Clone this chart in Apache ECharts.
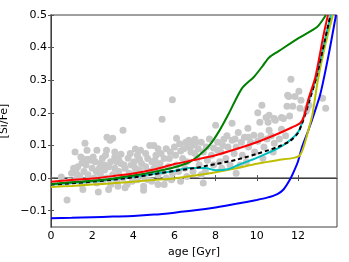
<!DOCTYPE html>
<html><head><meta charset="utf-8">
<script src="https://cdn.jsdelivr.net/npm/echarts@6/dist/echarts.min.js"></script>
<style>html,body{margin:0;padding:0;background:#fff}#c{width:349px;height:262px}</style>
</head><body><div id="c"></div>
<script>
var xTicks = [0, 2, 4, 6, 8, 10, 12];
var yTicks = [-0.1, 0, 0.1, 0.2, 0.3, 0.4, 0.5];

var stars = [
 [0.5,0.003],[0.78,-0.067],[1.0,0.015],[0.9,-0.01],[1.2,0.024],[1.27,0.012],[1.17,0.08],[1.5,0.046],
 [1.65,0.107],[1.6,0.058],[1.75,0.085],[1.8,0.058],[1.95,0.055],[1.75,-0.012],[2.23,-0.015],[2.23,0.085],
 [2.3,-0.043],[2.5,0.061],[2.6,0.04],[2.72,0.125],[2.87,0.116],[2.7,0.085],[3.1,0.064],[3.1,0.08],
 [3.0,0.122],[3.4,0.073],[3.5,0.147],[3.75,0.061],[4.1,0.089],[4.3,0.058],
 [1.2,-0.005],[1.4,0.005],[1.5,-0.02],[1.6,0.02],[1.8,0.01],[1.9,-0.005],[2.0,0.03],[1.3,0.035],[1.7,0.04],
 [2.1,0.0],[2.2,0.02],[2.4,0.01],[2.5,-0.01],[2.6,0.025],[2.7,0.0],[2.8,0.035],[2.9,-0.02],[2.4,0.045],[2.9,0.05],[2.8,-0.035],
 [3.0,0.01],[3.1,0.03],[3.2,-0.01],[3.3,0.02],[3.4,0.045],[3.5,0.0],[3.6,0.03],[3.7,-0.02],[3.8,0.015],[3.9,0.04],[3.3,0.055],[3.6,-0.03],
 [4.0,0.01],[4.1,0.03],[4.2,-0.005],[4.3,0.025],[4.4,0.045],[4.5,0.005],[4.6,0.035],[4.7,0.06],[4.8,0.02],[4.9,-0.01],[4.5,-0.025],[4.2,0.07],[4.9,0.05],[4.5,-0.037],
 [5.0,0.03],[5.1,0.07],[5.2,0.01],[5.3,0.045],[5.4,0.02],[5.5,0.06],[5.6,0.0],[5.7,0.035],[5.8,0.08],[5.9,0.015],[5.2,0.09],[5.5,-0.02],[5.0,0.1],[5.2,-0.02],
 [5.4,0.18],[5.9,0.24],
 [6.0,0.095],[6.1,0.122],[6.3,0.083],[6.1,0.04],[6.2,0.02],[6.4,0.06],[6.5,0.03],[6.65,0.095],[6.7,0.116],[6.8,0.08],[6.6,0.05],[6.9,0.02],[6.3,-0.01],
 [7.0,0.119],[7.0,0.107],[7.1,0.06],[7.2,0.04],[7.4,0.08],[7.5,0.02],[7.6,0.055],[7.8,0.07],[7.9,0.092],[7.9,0.04],[8.0,0.162],[7.3,0.01],[7.4,-0.015],
 [8.25,0.08],[8.4,0.119],[8.6,0.095],[8.8,0.168],[8.2,0.05],[8.5,0.06],[8.7,0.04],[8.9,0.075],[8.3,0.03],[8.8,0.116],
 [9.0,0.095],[9.1,0.14],[9.4,0.125],[9.6,0.125],[9.57,0.153],[9.6,0.095],[9.7,0.11],[9.86,0.131],[9.3,0.07],[9.5,0.05],[9.9,0.08],[9.2,0.04],[9.0,0.015],
 [10.05,0.2],[10.05,0.113],[10.15,0.171],[10.25,0.223],[10.35,0.095],[10.45,0.186],[10.55,0.171],[10.6,0.193],[10.6,0.147],[10.85,0.183],[10.85,0.107],[10.9,0.177],[10.2,0.13],[10.5,0.12],[10.7,0.13],[10.3,0.06],[10.8,0.08],
 [11.2,0.186],[11.3,0.183],[11.47,0.22],[11.5,0.254],[11.56,0.25],[11.6,0.19],[11.66,0.303],[11.75,0.22],[11.86,0.25],[11.2,0.15],[11.4,0.13],[11.1,0.12],
 [12.05,0.266],[12.1,0.214],[12.15,0.239],[12.4,0.205],[12.45,0.214],[12.54,0.223],[13.2,0.245],[13.35,0.214],
 [1.1,0.03],[1.45,0.065],[2.05,0.065],[2.35,0.03],[2.65,0.07],[3.2,0.05],[3.55,0.04],[3.85,0.075],[4.05,0.05],[4.35,0.085],
 [4.6,0.075],[4.8,0.1],[5.05,0.055],[5.35,0.075],[5.6,0.09],[5.75,0.06],[6.05,0.07],[6.25,0.105],[6.45,0.09],[6.55,0.11],
 [6.85,0.1],[7.15,0.09],[7.3,0.11],[7.55,0.095],[7.7,0.12],[8.1,0.11],[8.35,0.1],[8.55,0.13],[8.95,0.12],[9.25,0.11],
 [3.95,-0.01],[4.7,-0.005],[5.85,-0.005],[6.6,0.005],[2.15,0.05],[1.55,-0.035],[3.25,-0.025],[5.1,0.035],[7.0,0.075],[8.1,0.085]
];

var blueLine = [[0,-0.123],[1,-0.122],[2,-0.12],[3,-0.118],[4,-0.116],[5,-0.112],[6,-0.106],[7,-0.099],[8,-0.09],[9,-0.079],[10,-0.067],[10.5,-0.06],[11,-0.049],[11.3,-0.035],[11.6,-0.006],[11.8,0.02],[12.0,0.05],[12.2,0.095],[12.5,0.145],[12.8,0.2],[13.1,0.26],[13.5,0.38],[13.85,0.5]];
var yellowLine = [[0,-0.027],[1,-0.024],[2,-0.02],[3,-0.016],[4,-0.011],[5,-0.006],[6,-0.001],[7,0.008],[8,0.018],[9,0.03],[10,0.044],[11,0.055],[11.8,0.062],[12.1,0.07],[12.3,0.1],[12.5,0.145],[12.7,0.193],[12.97,0.3],[13.3,0.4],[13.7,0.5]];
var redLine = [[0,-0.011],[1,-0.006],[2,-0.001],[3,0.006],[4,0.014],[5,0.026],[6,0.043],[7,0.056],[8,0.07],[9,0.089],[10,0.11],[11,0.135],[11.7,0.155],[12.1,0.168],[12.3,0.19],[12.5,0.24],[12.85,0.31],[13.25,0.44],[13.46,0.5]];
var greenLine = [[0,-0.018],[1,-0.013],[2,-0.008],[3,-0.002],[4,0.008],[5,0.019],[6,0.033],[6.75,0.05],[7.2,0.07],[7.7,0.1],[8.2,0.147],[8.65,0.199],[9.28,0.275],[9.86,0.31],[10.3,0.345],[10.6,0.37],[11.08,0.39],[12.05,0.43],[12.93,0.463],[13.36,0.5]];
var cyanLine = [[0,-0.02],[1,-0.015],[2,-0.01],[3,-0.004],[4,0.004],[5,0.013],[6,0.022],[6.7,0.031],[7.5,0.031],[8.0,0.024],[8.65,0.028],[9.1,0.04],[10.0,0.062],[11.0,0.09],[11.6,0.115],[12.05,0.145],[12.3,0.19],[12.55,0.24],[12.9,0.31],[13.3,0.42],[13.6,0.5]];
var meanLine = [[0,-0.02],[1,-0.016],[2,-0.011],[3,-0.005],[4,0.002],[5,0.012],[6,0.022],[7,0.031],[8,0.043],[9,0.056],[10,0.074],[11,0.095],[11.6,0.113],[12.0,0.138],[12.3,0.185],[12.55,0.235],[12.9,0.31],[13.3,0.42],[13.58,0.5]];

var font = 'DejaVu Sans';
function yfmt(v){ var s = Math.abs(v).toFixed(1); return (v < -1e-9 ? '\u2212' : '') + s; }
function line(data, color, z, dashed){
  return {type:'line', data:data, smooth:0.25, symbol:'none', z:z, xAxisIndex:0, yAxisIndex:0,
    lineStyle:{color:color, width:2, type: dashed ? [4,3] : 'solid'}};
}
var chart = echarts.init(document.getElementById('c'), null, {renderer:'canvas'});
chart.setOption({
  animation:false,
  grid:{left:51, top:15, right:12, bottom:35, containLabel:false, outerBoundsMode:'none', show:true, borderColor:'#404040', borderWidth:1},
  xAxis:[
    {type:'value', min:0, max:13.9, position:'bottom', name:'age [Gyr]', nameLocation:'middle', nameGap:16,
     nameTextStyle:{fontFamily:font, fontSize:11, color:'#000'},
     axisLine:{show:true, lineStyle:{color:'#8c8c8c', width:2}},
     axisTick:{show:true, inside:true, length:3, customValues:xTicks, lineStyle:{color:'#555'}},
     axisLabel:{customValues:xTicks, fontFamily:font, fontSize:11, color:'#000', margin:4},
     splitLine:{show:false}},
    {type:'value', min:0, max:13.9, position:'top',
     axisLine:{show:true, lineStyle:{color:'#404040', width:1}},
     axisTick:{show:true, inside:true, length:3, customValues:xTicks, lineStyle:{color:'#555'}},
     axisLabel:{show:false}, splitLine:{show:false}}
  ],
  yAxis:[
    {type:'value', min:-0.15, max:0.5, position:'left', name:'[Si/Fe]', nameLocation:'middle', nameGap:30,
     nameTextStyle:{fontFamily:font, fontSize:11, color:'#000'},
     axisLine:{show:true, lineStyle:{color:'#8c8c8c', width:2}},
     axisTick:{show:true, inside:true, length:3, customValues:yTicks, lineStyle:{color:'#555'}},
     axisLabel:{customValues:yTicks, formatter:yfmt, fontFamily:font, fontSize:11, color:'#000', margin:4},
     splitLine:{show:false}},
    {type:'value', min:-0.15, max:0.5, position:'right',
     axisLine:{show:true, lineStyle:{color:'#404040', width:1}},
     axisTick:{show:true, inside:true, length:3, customValues:yTicks, lineStyle:{color:'#555'}},
     axisLabel:{show:false}, splitLine:{show:false}}
  ],
  series:[
    {type:'scatter', data:stars, symbolSize:7, z:1, itemStyle:{color:'#c8c8c8', opacity:1}},
    line(blueLine, '#0000ff', 2),
    line(yellowLine, '#bfbf00', 3),
    line(cyanLine, '#00bfbf', 4),
    line(meanLine, '#000000', 5, true),
    line(greenLine, '#008000', 6),
    line(redLine, '#ff0000', 7)
  ]
});
</script></body></html>
